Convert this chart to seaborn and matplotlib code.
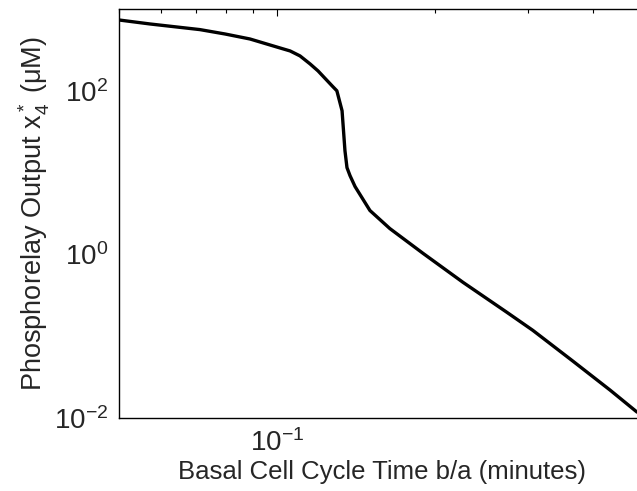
import matplotlib
matplotlib.use("Agg")
import matplotlib.pyplot as plt
import matplotlib.ticker as mticker
import seaborn as sns
import pandas as pd

cycle_time = [0.05, 0.0573, 0.0713, 0.0796, 0.0888, 0.1013, 0.1059, 0.1106, 0.1156,
              0.1197, 0.1273, 0.130, 0.1330, 0.1347, 0.1359, 0.1377, 0.1408, 0.1503,
              0.164, 0.1897, 0.226, 0.274, 0.307, 0.366, 0.431, 0.485]
phospho_output = [734, 656, 560, 495, 430, 334, 307, 267, 213,
                  175, 115, 100, 57, 18.5, 11.5, 9.2, 6.75, 3.44,
                  2.07, 1.03, 0.456, 0.196, 0.118, 0.0496, 0.0219, 0.0118]
y_ticks = [1e-2, 1e0, 1e2]
y_tick_labels = [r"10$^{-2}$", r"10$^{0}$", r"10$^{2}$"]
x_ticks = [1e-1]
x_tick_labels = [r"10$^{-1}$"]

sns.set_theme(style="white")
plt.rcParams['font.family'] = ['Liberation Sans', 'DejaVu Sans']
plt.rcParams['mathtext.fontset'] = 'custom'
plt.rcParams['mathtext.rm'] = 'Liberation Sans'
plt.rcParams['mathtext.it'] = 'Liberation Sans:italic'
plt.rcParams['mathtext.default'] = 'regular'

df = pd.DataFrame({"x": cycle_time, "y": phospho_output})

fig = plt.figure(figsize=(6.37, 4.91), dpi=100)
W, H = 637, 491
ax = fig.add_axes([119 / W, (H - 418) / H, (644 - 119) / W, (418 - 9) / H])
sns.lineplot(data=df, x="x", y="y", ax=ax, color="black", linewidth=2.4,
             sort=False, estimator=None)
ax.set_xscale("log")
ax.set_yscale("log")
ax.set_xlim(0.05, 0.5)
ax.set_ylim(1e-2, 1e3)

ax.set_xticks(x_ticks)
ax.set_xticklabels(x_tick_labels)
ax.xaxis.set_minor_locator(mticker.FixedLocator([0.05, 0.06, 0.07, 0.08, 0.09, 0.2, 0.3, 0.4, 0.5]))
ax.xaxis.set_minor_formatter(mticker.NullFormatter())
ax.set_yticks(y_ticks)
ax.set_yticklabels(y_tick_labels)
ax.yaxis.set_minor_locator(mticker.NullLocator())

ax.tick_params(axis="both", which="both", direction="in", top=True, right=True,
               color="black", width=0.8)
ax.tick_params(axis="both", which="major", length=5, labelsize=20, pad=8)
ax.tick_params(axis="both", which="minor", length=3)
for s in ax.spines.values():
    s.set_color("black")
    s.set_linewidth(1.0)

ax.set_xlabel("Basal Cell Cycle Time b/a (minutes)", fontsize=18.5, labelpad=2)
ax.set_ylabel(r"Phosphorelay Output x$_4^*$ ($\mu$M)", fontsize=19.5, labelpad=1)

fig.savefig("out.png", dpi=100)
